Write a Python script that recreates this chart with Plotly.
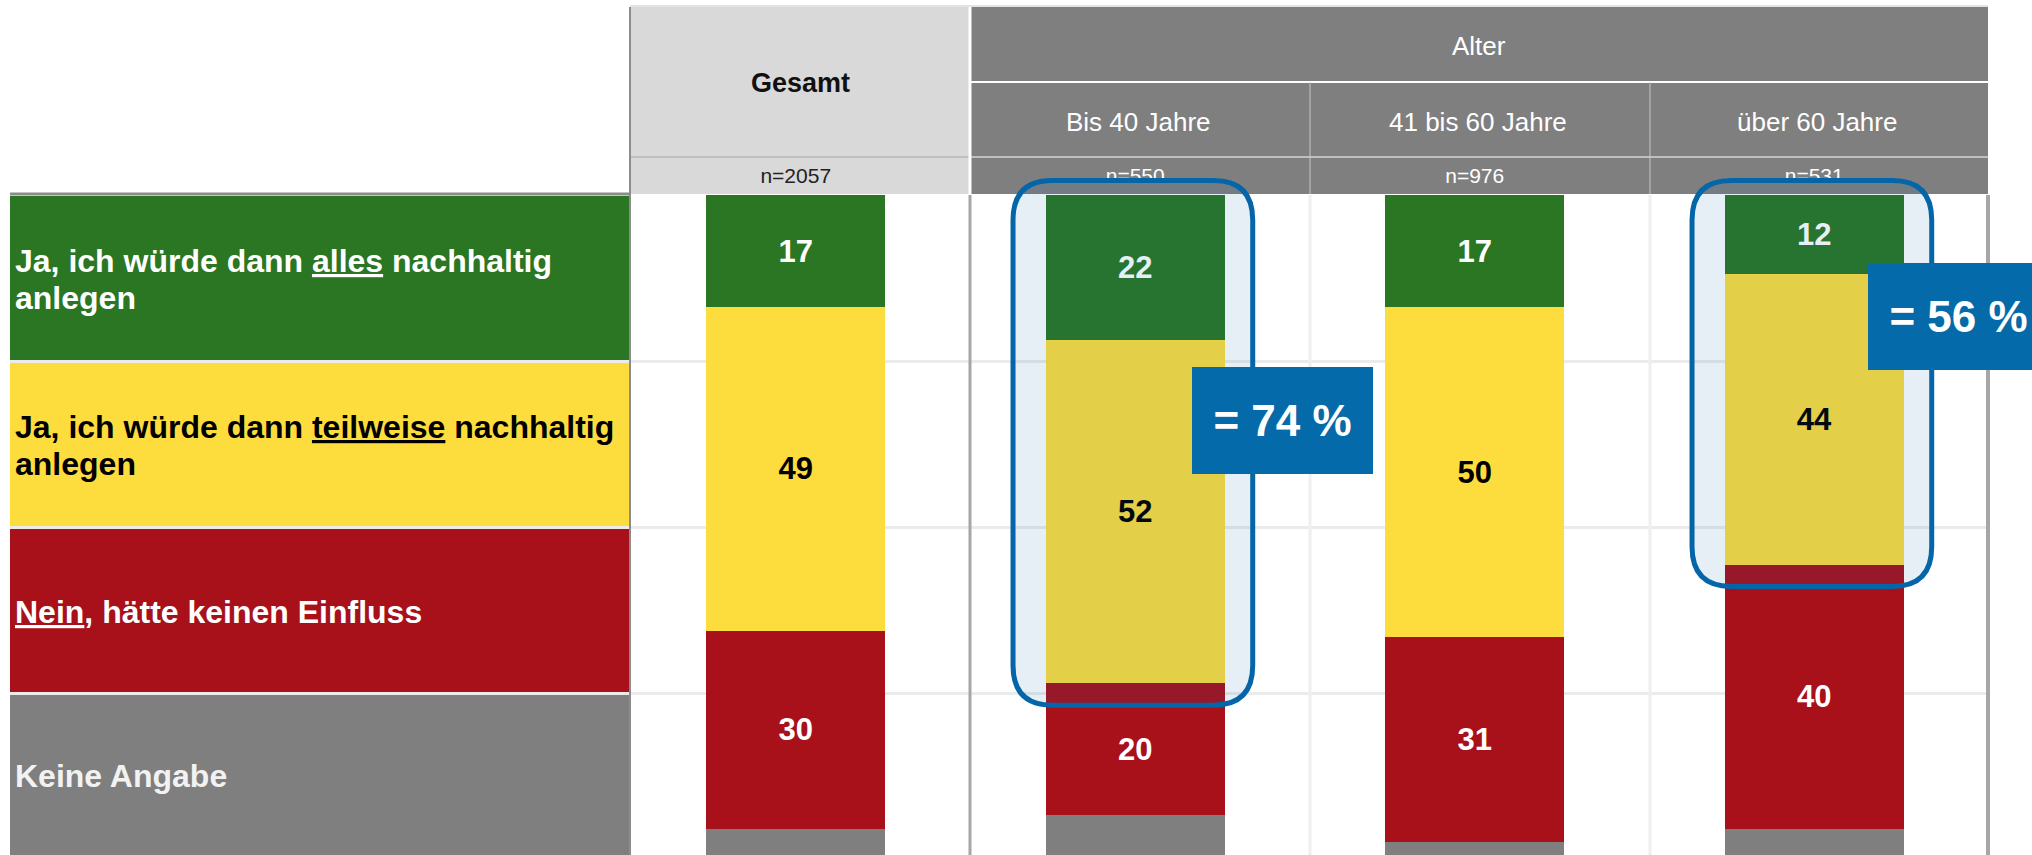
import plotly.graph_objects as go

# =========================
# Data
# =========================
GROUPS = ["Gesamt", "Bis 40 Jahre", "41 bis 60 Jahre", "über 60 Jahre"]
N_LABELS = ["n=2057", "n=550", "n=976", "n=531"]
HEADER_GROUP = "Alter"

ANSWERS = [
    "Ja, ich würde dann <u>alles</u> nachhaltig<br>anlegen",
    "Ja, ich würde dann <u>teilweise</u> nachhaltig<br>anlegen",
    "<u>Nein</u>, hätte keinen Einfluss",
    "Keine Angabe",
]
ALLES = [17, 22, 17, 12]
TEILWEISE = [49, 52, 50, 44]
NEIN = [30, 20, 31, 40]
KEINE = [4, 6, 2, 4]

HIGHLIGHT = [1, 3]  # groups with the "= xx %" call-out

# =========================
# Style / geometry (pixels)
# =========================
W, H = 2032, 855
FONT = "Liberation Sans, Arial, sans-serif"
COLORS = ["#2A7622", "#FDDC3E", "#A8101A", "#7F7F7F"]
TEXT_COLORS = ["#FFFFFF", "#000000", "#FFFFFF", "#F2F2F2"]
BLUE = "#0466A8"

BAR_TOP = 195          # pixel row of 0 %
PX_PER_PCT = 6.6       # pixels per percentage point
COL_LEFT, COL_RIGHT = 626, 1984
ROWS = [(196, 360), (363, 526), (529, 692), (695, 855)]


def px(x):
    return x / W


def py(y):
    return 1 - y / H


def to_pct(y):
    # pixel row -> value on the bar axis
    return (y - BAR_TOP) / PX_PER_PCT


def rounded_path(x0, x1, y0, y1, rx, ry):
    return (
        f"M {x0 + rx},{y0} L {x1 - rx},{y0} Q {x1},{y0} {x1},{y0 + ry} "
        f"L {x1},{y1 - ry} Q {x1},{y1} {x1 - rx},{y1} "
        f"L {x0 + rx},{y1} Q {x0},{y1} {x0},{y1 - ry} "
        f"L {x0},{y0 + ry} Q {x0},{y0} {x0 + rx},{y0} Z"
    )


fig = go.Figure()

xs = list(range(len(GROUPS)))
series = [ALLES, TEILWEISE, NEIN, KEINE]
for k, vals in enumerate(series):
    fig.add_trace(
        go.Bar(
            x=xs,
            y=vals,
            marker=dict(color=COLORS[k], line=dict(width=0)),
            text=[str(v) for v in vals] if k < 3 else None,
            textposition="inside" if k < 3 else "none",
            insidetextanchor="middle",
            constraintext="none",
            textfont=dict(family=FONT, size=31, color=TEXT_COLORS[k], weight="bold"),
            hoverinfo="skip",
        )
    )

# n= row of the header, as a text trace so the highlight frames sit on top of it
fig.add_trace(
    go.Scatter(
        x=xs,
        y=[to_pct(178)] * len(xs),
        mode="text",
        text=N_LABELS,
        textposition="middle center",
        textfont=dict(family=FONT, size=21,
                      color=["#222222"] + ["#FFFFFF"] * (len(xs) - 1)),
        hoverinfo="skip",
        cliponaxis=False,
    )
)

shapes = []
annotations = []


def line(x0, y0, x1, y1, color, width, layer="below"):
    shapes.append(dict(type="line", xref="paper", yref="paper",
                       x0=px(x0), y0=py(y0), x1=px(x1), y1=py(y1),
                       line=dict(color=color, width=width), layer=layer))


def rect(x0, y0, x1, y1, color, layer="below"):
    shapes.append(dict(type="rect", xref="paper", yref="paper",
                       x0=px(x0), y0=py(y0), x1=px(x1), y1=py(y1),
                       fillcolor=color, line=dict(width=0), layer=layer))


def label(x, y, text, size, color, bold=False, xanchor="center"):
    annotations.append(dict(xref="paper", yref="paper", x=px(x), y=py(y),
                            text=text, showarrow=False, xanchor=xanchor, yanchor="middle",
                            font=dict(family=FONT, size=size, color=color,
                                      weight="bold" if bold else "normal")))


# grid lines in the chart body
for _, bottom in ROWS[:-1]:
    line(10, bottom + 1.5, 1988, bottom + 1.5, "#EBEBEB", 3)
for xv in (1310, 1650):
    line(xv, 195, xv, H, "#EFEFEF", 3)

# header table
rect(630, 7, 969, 194, "#D9D9D9")
rect(969, 7, 1988, 194, "#7F7F7F")
line(630, 6, 1988, 6, "#E3E3E3", 2)
line(969, 82, 1988, 82, "#FFFFFF", 2)
line(630, 157, 1988, 157, "#BFBFBF", 2)
line(1310, 82, 1310, 194, "#C8C8C8", 1)
line(1650, 82, 1650, 194, "#C8C8C8", 1)
line(970, 7, 970, 194, "#FFFFFF", 3)

col_w = (COL_RIGHT - COL_LEFT) / len(GROUPS)
centers = [COL_LEFT + col_w * (i + 0.5) for i in range(len(GROUPS))]
label(800, 83, GROUPS[0], 27, "#111111", bold=True)
label((969 + 1988) / 2, 46, HEADER_GROUP, 26, "#FFFFFF")
for i in range(1, len(GROUPS)):
    label(centers[i] + 3, 122, GROUPS[i], 26, "#FFFFFF")

# row labels on the left
for k, (top, bottom) in enumerate(ROWS):
    rect(10, top, 629, bottom, COLORS[k])
    lines = ANSWERS[k].split("<br>")
    mid = (top + bottom) / 2 + 1
    for j, txt in enumerate(lines):
        yline = mid + (j - (len(lines) - 1) / 2) * 37
        label(13, yline, txt, 32, TEXT_COLORS[k], bold=True, xanchor="left")

# frame lines
line(10, 194, 630, 194, "#8C8C8C", 3)
line(630, 7, 630, H, "#8C8C8C", 2)
line(970, 195, 970, H, "#A6A6A6", 3)
line(1988, 195, 1988, H, "#A6A6A6", 4)

# highlight boxes (drawn over the bars) + call-outs
BOX_POS = {1: (0.168, to_pct(367)), 3: (0.158, to_pct(263))}
for i in HIGHLIGHT:
    top_val = ALLES[i] + TEILWEISE[i]
    shapes.append(dict(
        type="path", xref="x", yref="y", layer="above",
        path=rounded_path(i - 0.36, i + 0.346, to_pct(180.5), top_val + 3.3, 0.115, 6.0),
        fillcolor="rgba(10,100,170,0.10)",
        line=dict(color=BLUE, width=5),
    ))
    dx, ytop = BOX_POS[i]
    annotations.append(dict(
        xref="x", yref="y", x=i + dx, y=ytop, xanchor="left", yanchor="top",
        text=f"= {top_val} %", showarrow=False, width=181, height=107,
        bgcolor="#046AA9", borderpad=0, borderwidth=0, align="center", valign="middle",
        font=dict(family=FONT, size=44, color="#FFFFFF", weight="bold"),
    ))

fig.update_layout(
    width=W,
    height=H,
    barmode="stack",
    bargap=0.473,
    showlegend=False,
    hovermode=False,
    margin=dict(l=0, r=0, t=0, b=0),
    paper_bgcolor="#FFFFFF",
    plot_bgcolor="rgba(0,0,0,0)",
    xaxis=dict(domain=[px(COL_LEFT), px(COL_RIGHT)], range=[-0.5, len(GROUPS) - 0.5],
               visible=False, fixedrange=True),
    yaxis=dict(domain=[0, 1], range=[to_pct(H), to_pct(0)],
               visible=False, fixedrange=True),
    shapes=shapes,
    annotations=annotations,
)

# the page's default body margin would shift the chart by 8 px
fig.write_html("out.html", config={"displayModeBar": False},
               post_script="document.body.style.margin='0';")
